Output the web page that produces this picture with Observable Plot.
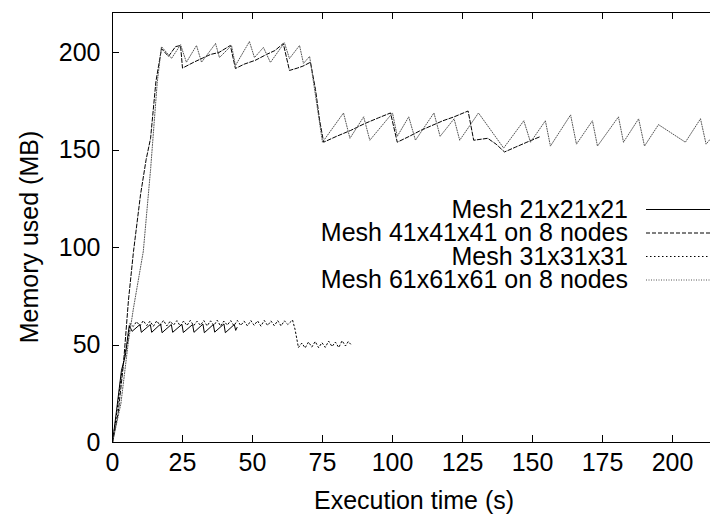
<!DOCTYPE html>
<html><head><meta charset="utf-8">
<script src="https://cdn.jsdelivr.net/npm/d3@7"></script>
<script src="https://cdn.jsdelivr.net/npm/@observablehq/plot@0.6"></script>
<style>
body{margin:0;background:#fff;}
#chart{width:710px;height:520px;overflow:hidden;}
svg text{font-family:"Liberation Sans",Arial,Helvetica,sans-serif;}
</style></head><body><div id="chart"></div>
<script>
const xTicks = [0, 25, 50, 75, 100, 125, 150, 175, 200];
const yTicks = [0, 50, 100, 150, 200];
const seriesNames = ["Mesh 21x21x21", "Mesh 41x41x41 on 8 nodes", "Mesh 31x31x31", "Mesh 61x61x61 on 8 nodes"];
const xLabel = "Execution time (s)";
const yLabel = "Memory used (MB)";

// Mesh 21x21x21
const x21 = [0, 1.5, 3.2, 4.6, 5.5, 6, 7, 9.8, 10.3, 13.5, 14, 17.2, 17.7, 21, 21.5, 24.8, 25.3, 28.6, 29.1, 32.3, 32.8, 36, 36.5, 39.8, 40.3, 43.5, 44, 44.5];
const y21 = [0, 17, 37, 44.6, 55, 60, 57, 60.5, 56.5, 60.5, 56.5, 60.8, 56.3, 60.5, 56.5, 60.6, 56.4, 60.5, 56.5, 60.7, 56.3, 60.5, 56.6, 60.8, 56.3, 60.5, 57.5, 59];

// Mesh 41x41x41 on 8 nodes
const x41 = [0, 2, 3.9, 5.7, 7.5, 10, 12, 13.6, 15.5, 17.5, 20, 22.5, 24.3, 25, 29, 32, 35, 38, 42.1, 43.9, 47, 51, 55, 58, 61, 63.2, 66, 68, 70.7, 72.5, 74, 75.4, 80, 85, 90, 95, 99.3, 101.7, 106, 110, 114, 118, 122, 127, 129, 134, 137, 140, 144, 148, 153];
const y41 = [0, 15, 40, 73, 98, 127, 145, 156, 185, 202, 198, 203, 203.6, 192, 195, 197, 199, 200, 203.6, 191.8, 194, 196, 199, 201, 204.6, 190.8, 192, 193, 195, 181, 165, 154, 157, 160, 163.5, 166.5, 169, 154, 157, 160, 162.5, 165, 167, 170, 155, 156, 153, 149, 151.5, 154, 157];

// Mesh 31x31x31
const x31 = [0, 1.5, 3, 4.5, 5.5, 6.2, 7.4, 8.6, 9.8, 11, 12.2, 13.4, 14.6, 15.8, 17, 18.2, 19.4, 20.6, 21.8, 23, 24.2, 25.4, 26.6, 27.8, 29, 30.2, 31.4, 32.6, 33.8, 35, 36.2, 37.4, 38.6, 39.8, 41, 42.2, 43.4, 44.6, 45.8, 47, 48.2, 49.4, 50.6, 51.8, 53, 54.2, 55.4, 56.6, 57.8, 59, 60.2, 61.4, 62.6, 64.3, 65.2, 66.4, 67.6, 68.8, 70, 71.2, 72.4, 73.6, 74.8, 76, 77.2, 78.4, 79.6, 80.8, 82, 83.2, 84.2, 85];
const y31 = [0, 15, 33, 46, 52, 61, 59.5, 62, 59.8, 62.5, 60, 62.2, 59.6, 62.4, 60, 62.6, 59.8, 62.2, 60.2, 62.5, 59.7, 62.3, 60, 62.6, 59.9, 62.2, 60.1, 62.5, 59.8, 62.4, 60, 62.7, 59.7, 62.3, 60.2, 62.5, 59.9, 62.6, 60, 62.2, 59.8, 62.5, 60.1, 62.4, 59.7, 62.6, 60, 62.3, 59.9, 62.5, 59.8, 62.4, 60.5, 62.8, 58, 48.7, 51, 48.5, 51.5, 49, 51.8, 48.6, 51.2, 48.8, 52, 49.2, 51.5, 48.7, 52.2, 49.5, 51.8, 50.5];

// Mesh 61x61x61 on 8 nodes
const x61 = [0, 3, 5.7, 7.5, 11, 13.6, 16, 17.5, 21.1, 24.3, 26.4, 30, 31.8, 36.8, 38.2, 42.5, 43.9, 48.9, 50.7, 53.9, 56.4, 61.4, 63.2, 66.8, 68.2, 70.4, 72.5, 75, 82.5, 84.8, 89.7, 91.9, 100, 101.7, 105.8, 108.2, 114.8, 117, 122, 124, 130.7, 139.7, 146.9, 149.3, 154.6, 156.4, 163.6, 165.7, 171.4, 173.2, 180.7, 182.5, 187.9, 190, 195, 204.6, 210, 212, 216];
const y61 = [0, 20, 52, 69, 98, 140, 185, 203, 197, 204, 195, 203.6, 195, 204.6, 197.4, 203.6, 193.3, 205.6, 197.4, 202.6, 194.9, 205, 196.9, 203.6, 194.4, 198, 178, 154, 169, 156, 167, 155, 169, 157, 167, 155, 169, 157, 166, 155, 169, 151, 165, 154, 165, 152, 168, 153, 165, 152, 167, 154, 166, 152, 163, 154, 166, 153, 160];

const dashes = [null, "4,2", "1.5,2.5", "1,1.5"];
const colors = ["#000", "#000", "#000", "#555"];
const xsArr = [x21, x41, x31, x61];
const ysArr = [y21, y41, y31, y61];
const series = seriesNames.map((name, i) => ({
  name, dash: dashes[i], color: colors[i],
  data: xsArr[i].map((x, j) => ({x, y: ysArr[i][j]}))
}));

const FONT = 25;
const plot = Plot.plot({
  width: 710, height: 520,
  marginLeft: 112, marginRight: -6, marginTop: 12, marginBottom: 78,
  style: {fontFamily: "Liberation Sans, Arial, sans-serif", fontSize: FONT + "px", background: "#fff", color: "#000", overflow: "hidden"},
  x: {domain: [0, (716 - 112) / 2.8]},
  y: {domain: [0, 430 / 1.95]},
  marks: [
    Plot.axisX({ticks: xTicks, tickSize: 0, tickPadding: 11, label: null, fontSize: FONT}),
    Plot.axisY({ticks: yTicks, tickSize: 0, tickPadding: 12, label: null, fontSize: FONT}),
    ...series.map(s => Plot.line(s.data, {x: "x", y: "y", stroke: s.color, strokeWidth: 1, strokeDasharray: s.dash, clip: true})),
    Plot.frame({stroke: "#000", strokeWidth: 1})
  ]
});
document.getElementById("chart").appendChild(plot);

const svg = d3.select(plot);
const sx = plot.scale("x"), sy = plot.scale("y");
const [x0, x1] = sx.range, [yb, yt] = sy.range;
const T = 7;
const g = svg.append("g").attr("stroke", "#000").attr("stroke-width", 1);
xTicks.forEach(v => {
  const px = Math.round(sx.apply(v)) + 0.5;
  g.append("line").attr("x1", px).attr("x2", px).attr("y1", yb).attr("y2", yb - T);
  g.append("line").attr("x1", px).attr("x2", px).attr("y1", yt).attr("y2", yt + T);
});
yTicks.forEach(v => {
  const py = Math.round(sy.apply(v)) + 0.5;
  g.append("line").attr("x1", x0).attr("x2", x0 + T).attr("y1", py).attr("y2", py);
});

// axis titles
svg.append("text").attr("x", (x0 + 716) / 2).attr("y", 509).attr("text-anchor", "middle")
  .attr("font-size", FONT).attr("fill", "#000").text(xLabel);
svg.append("text").attr("transform", `translate(38,${(yt + yb) / 2 + 10}) rotate(-90)`).attr("text-anchor", "middle")
  .attr("font-size", FONT).attr("fill", "#000").text(yLabel);

// legend
const rowY = [209, 232.5, 256, 279.5];
const leg = svg.append("g");
series.forEach((s, i) => {
  leg.append("text").attr("x", 628).attr("y", rowY[i]).attr("dy", "0.35em").attr("text-anchor", "end")
    .attr("font-size", FONT).attr("fill", "#000").text(s.name);
  leg.append("line").attr("x1", 646).attr("x2", 712).attr("y1", rowY[i] + 0.5).attr("y2", rowY[i] + 0.5)
    .attr("stroke", s.color).attr("stroke-width", 1).attr("stroke-dasharray", s.dash);
});
</script></body></html>
